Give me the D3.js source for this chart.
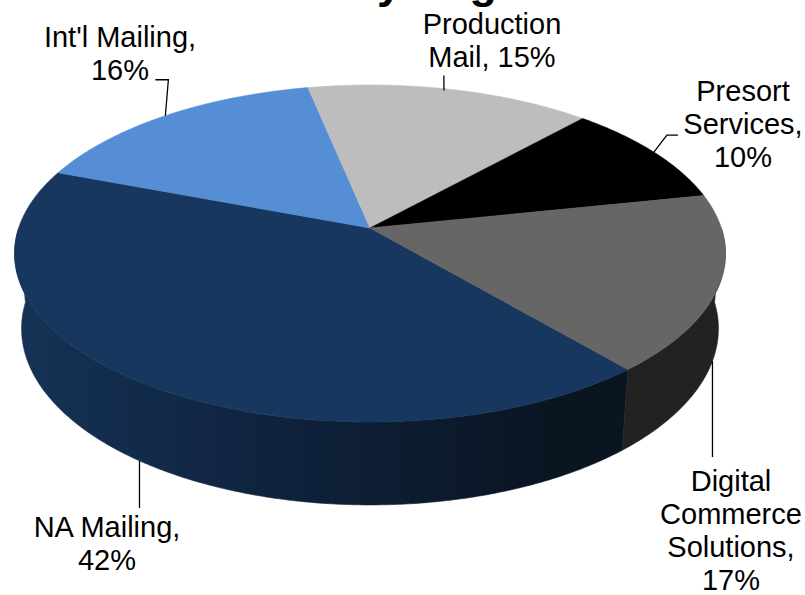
<!DOCTYPE html>
<html>
<head>
<meta charset="utf-8">
<script src="https://cdn.jsdelivr.net/npm/d3@7"></script>
<style>
  html, body { margin: 0; padding: 0; background: #ffffff; }
  svg { display: block; }
  text { font-family: "Liberation Sans", Arial, sans-serif; fill: #000; }
</style>
</head>
<body>
<svg id="chart" width="805" height="595"></svg>
<script>
// ---------------- data ----------------
const title = "Revenue by Segment";
const categories = ["NA Mailing", "Int'l Mailing", "Production Mail", "Presort Services", "Digital Commerce Solutions"];
const shares = [42, 16, 15, 10, 17];
const labelLines = [
  ["NA Mailing,", "42%"],
  ["Int'l Mailing,", "16%"],
  ["Production", "Mail, 15%"],
  ["Presort", "Services,", "10%"],
  ["Digital", "Commerce", "Solutions,", "17%"]
];
const topColors  = ["#17375E", "#558ED5", "#BDBDBD", "#000000", "#666666"];
const wallStops  = [
  ["#153256", "#0F223D", "#0A1522"],
  ["#3E6EA8", "#345F94", "#2B4F7C"],
  ["#8E8E8E", "#858585", "#7A7A7A"],
  ["#000000", "#000000", "#000000"],
  ["#2A2A2A", "#262626", "#222222"]
];

// ---------------- layout ----------------
const W = 805, H = 595;
const view = {
  cx: 370, cy: 228,          // projected pie centre
  focal: 2051,               // focal length (px per unit at dist 1)
  R: 0.1713,                 // disc radius (camera distance = 1)
  tilt: Math.asin(0.4686),   // elevation angle
  depth: 0.04185,            // thickness
  startDeg: 139.5
};
// leader points are offsets from the slice's edge anchor
const labelLayout = [
  { x: 107, y: 537, leader: [[-5, -2], [-5, 45]] },
  { x: 120, y: 47,  leader: [[0, 0], [3, -36], [-10, -36]] },
  { x: 492, y: 34,  leader: [[-7, 1], [-7, -14]] },
  { x: 743, y: 101, leader: [[0, 0], [13, -17], [24, -17]] },
  { x: 731, y: 491, leader: [[0, 0], [0, 96]] }
];
const fontSize = 29, lineH = 33;

// ---------------- projection ----------------
const sT = Math.sin(view.tilt), cT = Math.cos(view.tilt);
function proj(theta, height) {
  const X = view.R * Math.sin(theta), Z = view.R * Math.cos(theta);
  const yv = Z * sT + height * cT;
  const zv = Z * cT - height * sT;
  const d = 1 + zv;
  return [view.cx + view.focal * X / d, view.cy - view.focal * yv / d];
}
const centreTop = [view.cx, view.cy];

const svg = d3.select("#chart");
const defs = svg.append("defs");

const pie = d3.pie().sort(null).value(d => d)
  .startAngle(view.startDeg * Math.PI / 180)
  .endAngle(view.startDeg * Math.PI / 180 + 2 * Math.PI);
const arcs = pie(shares);

const line = d3.line();
function sampleArc(a0, a1, height) {
  const n = Math.max(2, Math.ceil(Math.abs(a1 - a0) / (Math.PI / 360)));
  return d3.range(n + 1).map(i => proj(a0 + (a1 - a0) * i / n, height));
}

// ---------------- walls (front half) ----------------
const wallG = svg.append("g");
const xScaleGrad = d3.scaleLinear().domain([0, 1]).range([view.cx - 356, view.cx + 356]);
arcs.forEach((a, i) => {
  const grad = defs.append("linearGradient")
    .attr("id", "wall" + i).attr("gradientUnits", "userSpaceOnUse")
    .attr("x1", xScaleGrad(0)).attr("x2", xScaleGrad(0.75)).attr("y1", 0).attr("y2", 0);
  wallStops[i].forEach((c, k) => grad.append("stop").attr("offset", k / 2).attr("stop-color", c));
  const ranges = [[Math.PI / 2, 3 * Math.PI / 2], [Math.PI / 2 + 2 * Math.PI, 3 * Math.PI / 2 + 2 * Math.PI]];
  ranges.forEach(([lo, hi]) => {
    const a0 = Math.max(a.startAngle, lo), a1 = Math.min(a.endAngle, hi);
    if (a1 <= a0) return;
    const top = sampleArc(a0, a1, 0);
    const bot = sampleArc(a0, a1, -view.depth).reverse();
    wallG.append("path")
      .attr("d", line(top.concat(bot)) + "Z")
      .attr("fill", "url(#wall" + i + ")")
      .attr("stroke", "url(#wall" + i + ")")
      .attr("stroke-width", 0.6);
  });
});

// ---------------- top faces ----------------
const topG = svg.append("g");
arcs.forEach((a, i) => {
  const pts = [centreTop].concat(sampleArc(a.startAngle, a.endAngle, 0));
  topG.append("path")
    .attr("d", line(pts) + "Z")
    .attr("fill", topColors[i])
    .attr("stroke", topColors[i])
    .attr("stroke-width", 0.6)
    .attr("stroke-linejoin", "round");
});

// ---------------- leaders & labels ----------------
const labG = svg.append("g");
arcs.forEach((a, i) => {
  const mid = (a.startAngle + a.endAngle) / 2;
  const front = Math.cos(mid) < 0;
  const anchor = proj(mid, front ? -view.depth : 0);
  const L = labelLayout[i];
  const pts = L.leader.map(([dx, dy]) => [anchor[0] + dx, anchor[1] + dy]);
  labG.append("path")
    .attr("d", line(pts))
    .attr("fill", "none").attr("stroke", "#000").attr("stroke-width", 1.3);
  const t = labG.append("text")
    .attr("text-anchor", "middle")
    .attr("font-size", fontSize);
  labelLines[i].forEach((s, k) => {
    t.append("tspan").attr("x", L.x).attr("y", L.y + k * lineH).text(s);
  });
});

// ---------------- title ----------------
svg.append("text")
  .attr("x", 377).attr("y", -2)
  .attr("text-anchor", "middle")
  .attr("font-size", 45)
  .attr("font-weight", "bold")
  .text(title);
</script>
</body>
</html>
